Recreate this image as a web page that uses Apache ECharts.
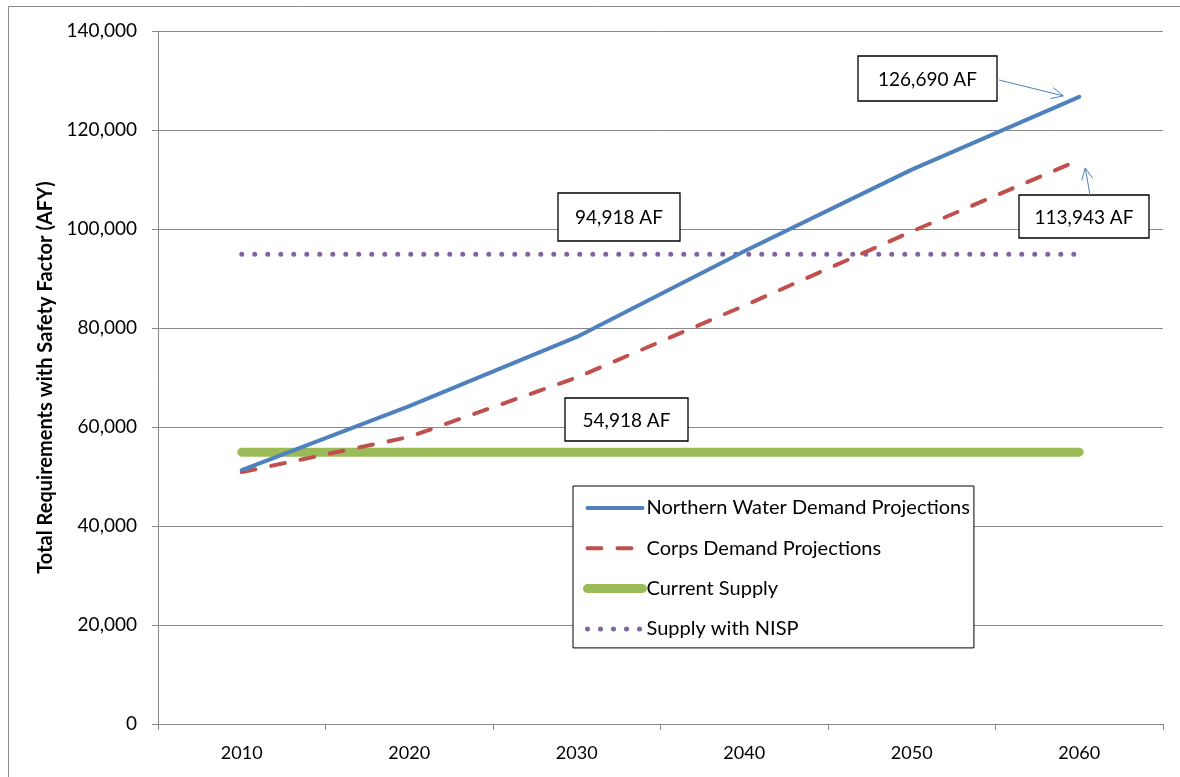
<!DOCTYPE html>
<html>
<head>
<meta charset="utf-8">
<script src="https://cdn.jsdelivr.net/npm/echarts@6/dist/echarts.min.js"></script>
<style>
  html, body { margin: 0; padding: 0; background: #fff; }
  #chart { width: 1180px; height: 777px; }
</style>
</head>
<body>
<div id="chart"></div>
<script>
// Decades on the category axis
const years = ['2010', '2020', '2030', '2040', '2050', '2060'];

// Demand projections (acre-feet per year, safety factor included)
const northernDemand = [51300, 64200, 78200, 95500, 112000, 126690];
const corpsDemand = [50900, 58000, 70000, 84500, 99500, 113943];

// Supply levels (flat across all decades)
const currentSupplyLevel = 54918;
const nispSupplyLevel = 94918;
const currentSupply = years.map(() => currentSupplyLevel);
const nispSupply = years.map(() => nispSupplyLevel);

const seriesNames = [
  'Northern Water Demand Projections',
  'Corps Demand Projections',
  'Current Supply',
  'Supply with NISP'
];

const FONT = 'Lato, Carlito, Calibri, sans-serif';
const GRID_GRAY = '#888888';

const fmt = v => v.toLocaleString('en-US');

const chart = echarts.init(document.getElementById('chart'), null, { renderer: 'canvas' });

const option = {
  backgroundColor: '#ffffff',
  animation: false,
  textStyle: { fontFamily: FONT },
  grid: { left: 158, right: 17, top: 31, bottom: 53, containLabel: false },
  xAxis: {
    type: 'category',
    data: years,
    boundaryGap: true,
    axisLine: { lineStyle: { color: GRID_GRAY, width: 1 } },
    axisTick: { show: true, interval: 0, alignWithLabel: false, length: 6, lineStyle: { color: GRID_GRAY } },
    axisLabel: { color: '#000', fontSize: 18, margin: 20, fontFamily: FONT }
  },
  yAxis: {
    type: 'value',
    min: 0,
    max: 140000,
    interval: 20000,
    name: 'Total Requirements with Safety Factor (AFY)',
    nameLocation: 'middle',
    nameGap: 101,
    nameRotate: 90,
    nameTextStyle: { color: '#000', fontSize: 20, fontWeight: 'bold', fontFamily: FONT },
    axisLine: { show: true, lineStyle: { color: GRID_GRAY, width: 1 } },
    axisTick: { show: true, inside: false, length: 6, lineStyle: { color: GRID_GRAY } },
    axisLabel: { color: '#000', fontSize: 19, margin: 21, fontFamily: FONT, formatter: v => fmt(v) },
    splitLine: { show: true, lineStyle: { color: GRID_GRAY, width: 1 } }
  },
  legend: {
    orient: 'vertical',
    left: 573,
    top: 486,
    padding: [12, 4, 9, 10],
    itemGap: 20.3,
    itemWidth: 55,
    itemHeight: 20,
    backgroundColor: '#fff',
    borderColor: '#000',
    borderWidth: 1,
    itemStyle: { opacity: 0 },
    lineStyle: { width: 'inherit', cap: 'round' },
    textStyle: { color: '#000', fontSize: 20, lineHeight: 20, fontFamily: FONT, padding: [0, 0, 0, -1] },
    data: seriesNames
  },
  series: [
    {
      name: seriesNames[0],
      type: 'line',
      data: northernDemand,
      symbol: 'none',
      z: 4,
      lineStyle: { color: '#4F81BD', width: 4, cap: 'round', join: 'round' },
      itemStyle: { color: '#4F81BD' }
    },
    {
      name: seriesNames[1],
      type: 'line',
      data: corpsDemand,
      symbol: 'none',
      z: 3,
      lineStyle: { color: '#C0504D', width: 4, type: [14, 16], cap: 'round', join: 'round' },
      itemStyle: { color: '#C0504D' }
    },
    {
      name: seriesNames[2],
      type: 'line',
      data: currentSupply,
      symbol: 'none',
      z: 2,
      lineStyle: { color: '#9BBB59', width: 9, cap: 'round' },
      itemStyle: { color: '#9BBB59' }
    },
    {
      name: seriesNames[3],
      type: 'line',
      data: nispSupply,
      symbol: 'none',
      z: 2,
      lineStyle: { color: '#8064A2', width: 5, type: [0, 13], cap: 'round' },
      itemStyle: { color: '#8064A2' }
    }
  ]
};

chart.setOption(option);

// Callout boxes with their value text
function callout(x, y, w, h, value) {
  return {
    type: 'group',
    x: x, y: y,
    z: 20,
    children: [
      { type: 'rect', shape: { x: 0, y: 0, width: w, height: h },
        style: { fill: '#fff', stroke: '#000', lineWidth: 1.3 } },
      { type: 'text', x: w / 2, y: h / 2 + 1,
        style: { text: fmt(value) + ' AF', fill: '#000', font: '19px ' + FONT,
                 align: 'center', verticalAlign: 'middle' } }
    ]
  };
}

// Thin arrow with an open head, ending at (x2, y2)
function arrow(x1, y1, x2, y2) {
  const ang = Math.atan2(y2 - y1, x2 - x1);
  const len = 13, spread = 0.45;
  const p1 = [x2 - len * Math.cos(ang - spread), y2 - len * Math.sin(ang - spread)];
  const p2 = [x2 - len * Math.cos(ang + spread), y2 - len * Math.sin(ang + spread)];
  return [
    { type: 'line', z: 20, shape: { x1, y1, x2, y2 }, style: { stroke: '#4F81BD', lineWidth: 1 } },
    { type: 'polyline', z: 20, shape: { points: [p1, [x2, y2], p2] }, style: { stroke: '#4F81BD', lineWidth: 1, fill: null } }
  ];
}

const lastIdx = years.length - 1;
const northEnd = chart.convertToPixel({ seriesIndex: 0 }, [lastIdx, northernDemand[lastIdx]]);
const corpsEnd = chart.convertToPixel({ seriesIndex: 1 }, [lastIdx, corpsDemand[lastIdx]]);

const graphics = [
  // outer chart frame
  { type: 'rect', z: 0, silent: true, shape: { x: 8.5, y: 6.5, width: 1190, height: 800 },
    style: { fill: null, stroke: '#8a8a8a', lineWidth: 1 } },
  callout(858, 56, 139, 45, northernDemand[lastIdx]),
  callout(1019, 195, 130, 43, corpsDemand[lastIdx]),
  callout(558, 193, 122, 48, nispSupplyLevel),
  callout(565, 398, 123, 43, currentSupplyLevel)
].concat(
  arrow(999, 80, northEnd[0] - 16, northEnd[1] - 1),
  arrow(1090, 195, corpsEnd[0] + 6, corpsEnd[1] + 8)
);

chart.setOption({ graphic: graphics });
</script>
</body>
</html>
